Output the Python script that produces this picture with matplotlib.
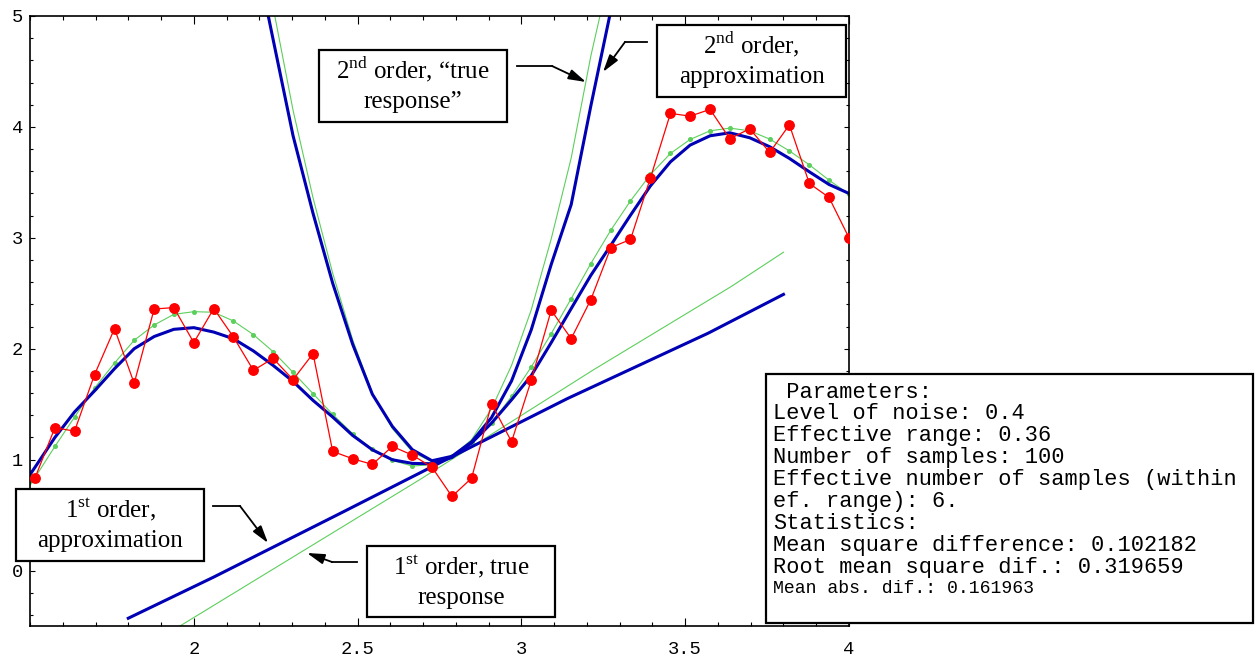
import matplotlib.pyplot as plt
from matplotlib.patches import Rectangle, FancyArrowPatch
from matplotlib.lines import Line2D
from matplotlib.ticker import MultipleLocator

plt.rcParams['mathtext.fontset'] = 'custom'
plt.rcParams['mathtext.rm'] = 'Liberation Serif'
plt.rcParams['font.family'] = 'Liberation Mono'

# sample grid (100 samples on [0, 6]); the first point lies just left of the window
x_curve = [1.455, 1.515, 1.576, 1.636, 1.697, 1.758, 1.818, 1.879, 1.939, 2.000,
           2.061, 2.121, 2.182, 2.242, 2.303, 2.364, 2.424, 2.485, 2.545, 2.606,
           2.667, 2.727, 2.788, 2.848, 2.909, 2.970, 3.030, 3.091, 3.152, 3.212,
           3.273, 3.333, 3.394, 3.455, 3.515, 3.576, 3.636, 3.697, 3.758, 3.818,
           3.879, 3.939, 4.000]
x_samples = x_curve[1:]

# noisy samples
y_noisy = [0.833, 1.288, 1.257, 1.766, 2.181, 1.688, 2.358, 2.371, 2.055, 2.362,
           2.106, 1.805, 1.913, 1.721, 1.956, 1.074, 1.008, 0.957, 1.119, 1.041,
           0.932, 0.668, 0.833, 1.504, 1.162, 1.715, 2.347, 2.091, 2.443, 2.912,
           2.985, 3.541, 4.122, 4.097, 4.158, 3.893, 3.983, 3.770, 4.019, 3.490,
           3.364, 3.000]

# true function
y_true = [0.56, 0.837, 1.119, 1.384, 1.645, 1.871, 2.076, 2.214, 2.310, 2.334,
          2.329, 2.250, 2.127, 1.974, 1.787, 1.595, 1.408, 1.234, 1.092, 0.993,
          0.942, 0.955, 1.029, 1.160, 1.330, 1.570, 1.835, 2.136, 2.452, 2.768,
          3.069, 3.333, 3.571, 3.761, 3.887, 3.965, 3.989, 3.965, 3.890, 3.784,
          3.658, 3.520, 3.394]

# smoothed approximation
y_approx = [0.67, 0.93, 1.20, 1.43, 1.62, 1.82, 2.00, 2.11, 2.175, 2.19,
            2.15, 2.09, 1.98, 1.85, 1.705, 1.534, 1.384, 1.218, 1.089, 0.999,
            0.966, 0.963, 1.02, 1.15, 1.33, 1.54, 1.757, 2.055, 2.362, 2.662,
            2.933, 3.204, 3.469, 3.685, 3.836, 3.920, 3.947, 3.902, 3.821, 3.716,
            3.595, 3.481, 3.400]

# 2nd order local fits
x_quad = x_curve[12:32]
y_quad_approx = [5.65, 4.79, 3.92, 3.22, 2.59, 2.04, 1.59, 1.30, 1.09, 0.99,
                 1.03, 1.16, 1.38, 1.71, 2.17, 2.76, 3.30, 4.19, 5.05, 6.0]
y_quad_true = [5.9, 5.08, 4.15, 3.36, 2.68, 2.08, 1.60, 1.28, 1.07, 0.98,
               1.03, 1.18, 1.46, 1.85, 2.35, 2.99, 3.72, 4.64, 5.43, 6.4]

# 1st order local fits
x_lin_approx = [1.80, 2.06, 2.45, 2.75, 3.14, 3.57, 3.80]
y_lin_approx = [-0.43, -0.06, 0.52, 0.97, 1.55, 2.14, 2.49]
x_lin_true = [1.93, 2.69, 3.22, 3.64, 3.80]
y_lin_true = [-0.55, 0.82, 1.81, 2.56, 2.87]

params = [" Parameters:",
          "Level of noise: 0.4",
          "Effective range: 0.36",
          "Number of samples: 100",
          "Effective number of samples (within",
          "ef. range): 6.",
          "Statistics:",
          "Mean square difference: 0.102182",
          "Root mean square dif.: 0.319659"]
params_last = "Mean abs. dif.: 0.161963"

W, H = 1256, 657
blue = '#0000b4'
green = '#5ccf5c'
red = '#ff0000'


def P(px, py):
    return (px / W, 1 - py / H)


fig = plt.figure(figsize=(W / 100, H / 100), dpi=100)
ax = fig.add_axes([30 / W, 1 - 626 / H, (849 - 30) / W, (626 - 16) / H])

ax.plot(x_lin_true, y_lin_true, color=green, lw=0.8)
ax.plot(x_quad, y_quad_true, color=green, lw=0.8)
ax.plot(x_curve, y_true, color=green, lw=0.8, marker='o', ms=2.6, mec=green)
ax.plot(x_lin_approx, y_lin_approx, color=blue, lw=2.2)
ax.plot(x_quad, y_quad_approx, color=blue, lw=2.2)
ax.plot(x_curve, y_approx, color=blue, lw=2.2)
ax.plot(x_samples, y_noisy, color=red, lw=0.9, marker='o', ms=6.8, zorder=3)

ax.set_xlim(1.5, 4)
ax.set_ylim(-0.5, 5)
ax.set_xticks([2, 2.5, 3, 3.5, 4], ['2', '2.5', '3', '3.5', '4'], fontsize=13.5)
ax.set_yticks([0, 1, 2, 3, 4, 5], ['0', '1', '2', '3', '4', '5'], fontsize=13.5)
ax.xaxis.set_minor_locator(MultipleLocator(0.1))
ax.yaxis.set_minor_locator(MultipleLocator(0.2))
ax.tick_params(which='both', direction='in', top=True, right=True, width=0.8)
ax.tick_params(axis='x', which='major', length=5.5, pad=10.5)
ax.tick_params(axis='x', which='minor', length=3.1)
ax.tick_params(axis='y', which='major', length=3.8, pad=5)
ax.tick_params(axis='y', which='minor', length=2.0)
for s in ax.spines.values():
    s.set_linewidth(1.2)

# annotation boxes (pixel geometry of the reference)
boxes = [
    ((319, 50, 507, 122), ["2$^{\\mathrm{nd}}$ order, \u201ctrue", "response\u201d"]),
    ((657, 25, 846, 97), ["2$^{\\mathrm{nd}}$ order,", "approximation"]),
    ((16, 489, 204, 561), ["1$^{\\mathrm{st}}$ order,", "approximation"]),
    ((367, 546, 555, 617), ["1$^{\\mathrm{st}}$ order, true", "response"]),
]
for (x0, y0, x1, y1), lines in boxes:
    fig.add_artist(Rectangle(P(x0, y1), (x1 - x0) / W, (y1 - y0) / H,
                             transform=fig.transFigure, facecolor='white',
                             edgecolor='black', lw=1.6, zorder=5))
    for i, t in enumerate(lines):
        fig.text(*P((x0 + x1) / 2, y0 + 28.5 + 29.5 * i), t, ha='center',
                 va='baseline', family='Liberation Serif', fontsize=18, zorder=6)

arrows = [
    ((517, 66), (552, 66), (586, 82)),
    ((647, 42), (625, 42), (603, 72)),
    ((213, 506), (240, 506), (268, 543)),
    ((357, 562), (332, 562), (307, 553)),
]
for a, b, c in arrows:
    fig.add_artist(Line2D([a[0] / W, b[0] / W], [1 - a[1] / H, 1 - b[1] / H],
                          transform=fig.transFigure, color='black', lw=1.3,
                          zorder=6))
    fig.add_artist(FancyArrowPatch(P(*b), P(*c), transform=fig.transFigure,
                                   arrowstyle='-|>,head_length=0.75,head_width=0.22',
                                   mutation_scale=14, color='black', lw=1.3,
                                   shrinkA=0, shrinkB=0, zorder=6))

# parameters box
fig.add_artist(Rectangle(P(766, 623), (1253 - 766) / W, (623 - 374) / H,
                         transform=fig.transFigure, facecolor='white',
                         edgecolor='black', lw=1.6, zorder=5))
for i, t in enumerate(params):
    fig.text(*P(773, 397.5 + 21.9 * i), t, ha='left', va='baseline',
             family='Liberation Mono', fontsize=15.8, zorder=6)
fig.text(*P(773, 593.3), params_last, ha='left', va='baseline',
         family='Liberation Mono', fontsize=13.1, zorder=6)

fig.savefig('out.png', dpi=100)
